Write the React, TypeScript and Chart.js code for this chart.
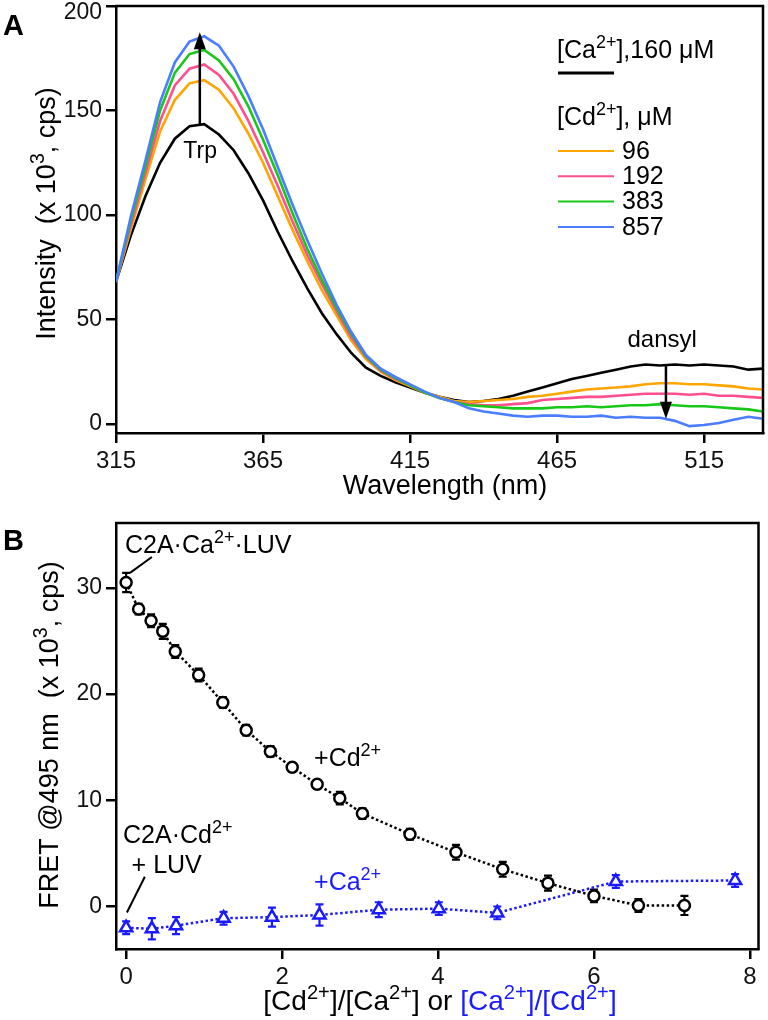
import React, { useEffect, useRef } from 'react';
import { Chart, registerables } from 'chart.js';
Chart.register(...registerables);

// ---------- Panel A data ----------
const wavelengths = [315,320,325,330,335,340,345,350,355,360,365,370,375,380,385,390,395,400,405,410,415,420,425,430,435,440,445,450,455,460,465,470,475,480,485,490,495,500,505,510,515,520,525,530,535];
const ca160 = [68,90,109,125,136.5,142.5,143.5,138.5,131,120,107,92,78,65,53,43,34,27,23,20,17.5,15,13,11.5,10.5,11,12,13.5,15.5,17.5,19.5,21.5,23,24.5,26,27.5,28.5,28,28.5,28,28.5,28,27.5,26,26.5];
const cd96 = [68,93,117,140,155,163,164.5,160,151,139,125,109,93,78,64,52,40,31,25,21,18,15,13,11,10.5,11,11.5,12,13,13.5,14.5,15.5,16.5,17,17.5,18,19,19.5,19.5,19,19,18.5,18,17,16.5];
const cd192 = [68,95,120,145,162,170,172,167,158,145,130,114,97,81,67,54,41.5,32,25.5,21.5,18.5,15,12.5,10.5,9.5,9,9,9.5,10,11.5,12,12.5,13,13,13.5,14,14.5,14.5,14.5,14,14.5,13.5,13.5,13,12.5];
const cd383 = [68,97,123,150,168,177,179,174,165,152,136,119,101,84,69,55.5,43,32.5,26,22,18.5,15,12.5,10.5,9,8.5,8,7.5,7.5,7.5,8,8,8.5,8,8.5,9,9,9.5,9,8.5,8.5,8,7.5,7,6];
const cd857 = [68,99,126,154,173,183,185.5,181,171,157,141,123,105,88,72,57,44,33,26.5,22.5,19,15.5,12.5,10.5,7.5,6,5,4,3.5,4,4,3.5,3.5,4,3,3.5,3,3,1.5,-1,-0.5,0.5,2,3.5,2.5];
const cdLabels = ['96', '192', '383', '857'];
const xTicksA = [315, 365, 415, 465, 515];
const yTicksA = [0, 50, 100, 150, 200];

// ---------- Panel B data ----------
const ratioCd = [0,0.16,0.32,0.47,0.63,0.93,1.24,1.54,1.85,2.13,2.45,2.74,3.03,3.64,4.23,4.83,5.41,6.0,6.57,7.16];
const fretCd = [30.5,28.0,26.9,25.9,24.0,21.8,19.2,16.6,14.6,13.1,11.5,10.2,8.75,6.8,5.1,3.5,2.2,1.0,0.1,0.1];
const errCd = [0.9,0.5,0.6,0.7,0.6,0.6,0.5,0.5,0.5,0.4,0.4,0.6,0.5,0.5,0.7,0.7,0.7,0.6,0.6,0.9];
const ratioCa = [0,0.33,0.64,1.25,1.87,2.48,3.24,4.01,4.76,6.28,7.81];
const fretCa = [-2.0,-2.1,-1.8,-1.1,-1.0,-0.8,-0.3,-0.2,-0.6,2.35,2.45];
const errCa = [0.6,1.0,0.8,0.6,0.9,1.0,0.7,0.6,0.6,0.6,0.6];
const xTicksB = [0, 2, 4, 6, 8];
const yTicksB = [0, 10, 20, 30];

const FONT = '"Liberation Sans", Arial, Helvetica, sans-serif';
const BLUE = '#1a1aff';
const COLORS = { ca: '#000000', c96: '#ffa500', c192: '#ff4f8f', c383: '#18c818', c857: '#4a7dff' };
const SUP = 0.72;

type Seg = [string, boolean?, string?];

function drawRich(ctx: CanvasRenderingContext2D, segs: Seg[], x: number, y: number, size: number, align: 'left' | 'center', color: string) {
  let w = 0;
  for (const [t, sup] of segs) {
    ctx.font = `${sup ? size * SUP : size}px ${FONT}`;
    w += ctx.measureText(t).width;
  }
  let cx = align === 'center' ? x - w / 2 : x;
  ctx.textAlign = 'left';
  ctx.textBaseline = 'alphabetic';
  for (const [t, sup, c] of segs) {
    const s = sup ? size * SUP : size;
    ctx.font = `${s}px ${FONT}`;
    ctx.fillStyle = c || color;
    ctx.fillText(t, cx, sup ? y - size * 0.4 : y);
    cx += ctx.measureText(t).width;
  }
}

function drawArrow(ctx: CanvasRenderingContext2D, x: number, y0: number, y1: number) {
  const dir = y1 < y0 ? -1 : 1;
  ctx.save();
  ctx.strokeStyle = '#000';
  ctx.fillStyle = '#000';
  ctx.lineWidth = 2.5;
  ctx.beginPath();
  ctx.moveTo(x, y0);
  ctx.lineTo(x, y1 - dir * 10);
  ctx.stroke();
  ctx.beginPath();
  ctx.moveTo(x, y1);
  ctx.lineTo(x - 6, y1 - dir * 17);
  ctx.lineTo(x + 6, y1 - dir * 17);
  ctx.closePath();
  ctx.fill();
  ctx.restore();
}

function frame(chart: any) {
  const { ctx, chartArea: a } = chart;
  ctx.save();
  ctx.strokeStyle = '#000';
  ctx.lineWidth = 2.5;
  ctx.beginPath();
  ctx.moveTo(a.left - 1, a.top);
  ctx.lineTo(a.right, a.top);
  ctx.lineTo(a.right, a.bottom + 1);
  ctx.stroke();
  ctx.restore();
}

function rotatedTitle(ctx: CanvasRenderingContext2D, segs: Seg[], cx: number, cy: number, size: number) {
  ctx.save();
  ctx.translate(cx, cy);
  ctx.rotate(-Math.PI / 2);
  drawRich(ctx, segs, 0, size * 0.36, size, 'center', '#000');
  ctx.restore();
}

const axisCommon = (ticksArr: number[], fontSize: number, hide?: number) => ({
  type: 'linear' as const,
  grid: { drawOnChartArea: false, drawTicks: true, tickLength: 10, tickColor: '#000', tickWidth: 2.5, color: '#000', lineWidth: 2.5 },
  border: { display: true, color: '#000', width: 2.5 },
  ticks: {
    color: '#111', font: { family: FONT, size: fontSize }, padding: 4, maxRotation: 0, autoSkip: false,
    callback: (v: any) => (v === hide ? '' : String(v)),
  },
  afterBuildTicks: (s: any) => { s.ticks = ticksArr.map((v) => ({ value: v })); },
});

const plotA = {
  id: 'plotA',
  afterDraw(chart: any) {
    const { ctx, chartArea: a, scales } = chart;
    const x = scales.x, y = scales.y;
    frame(chart);
    // top tick label, nudged down to stay inside the page
    ctx.save();
    ctx.fillStyle = '#111';
    ctx.font = `23px ${FONT}`;
    ctx.textAlign = 'right';
    ctx.textBaseline = 'middle';
    ctx.fillText(String(yTicksA[yTicksA.length - 1]), a.left - 14, y.getPixelForValue(yTicksA[yTicksA.length - 1]) + 7);
    ctx.restore();
    // arrows
    drawArrow(ctx, x.getPixelForValue(343.5), y.getPixelForValue(143.5), y.getPixelForValue(187.5));
    drawArrow(ctx, x.getPixelForValue(502), y.getPixelForValue(28.5), y.getPixelForValue(2.5));
    ctx.save();
    ctx.fillStyle = '#000';
    ctx.textAlign = 'center';
    ctx.textBaseline = 'middle';
    ctx.font = `23px ${FONT}`;
    ctx.fillText('Trp', x.getPixelForValue(343.6), y.getPixelForValue(130.5));
    ctx.font = `24px ${FONT}`;
    ctx.fillText('dansyl', x.getPixelForValue(500.7), y.getPixelForValue(40));
    // panel letter
    ctx.textAlign = 'left';
    ctx.textBaseline = 'alphabetic';
    ctx.font = `bold 29px ${FONT}`;
    ctx.fillText('A', 3, 35);
    ctx.restore();
    // legend
    const lx = 558;
    drawRich(ctx, [['[Ca'], ['2+', true], ['],160 \u03BCM']], lx - 1, 58, 25, 'left', '#000');
    ctx.save();
    ctx.strokeStyle = '#000';
    ctx.lineWidth = 3;
    ctx.beginPath(); ctx.moveTo(lx, 73); ctx.lineTo(lx + 56, 73); ctx.stroke();
    ctx.restore();
    drawRich(ctx, [['[Cd'], ['2+', true], ['], \u03BCM']], lx - 1, 125, 25, 'left', '#000');
    const cols = [COLORS.c96, COLORS.c192, COLORS.c383, COLORS.c857];
    cdLabels.forEach((lab, i) => {
      const ly = 151 + i * 25.3;
      ctx.save();
      ctx.strokeStyle = cols[i];
      ctx.lineWidth = 2;
      ctx.beginPath(); ctx.moveTo(lx, ly); ctx.lineTo(lx + 56, ly); ctx.stroke();
      ctx.fillStyle = '#000';
      ctx.font = `25px ${FONT}`;
      ctx.textAlign = 'left';
      ctx.textBaseline = 'middle';
      ctx.fillText(lab, lx + 64, ly + 1);
      ctx.restore();
    });
    // axis titles
    rotatedTitle(ctx, [['Intensity  (x 10'], ['3', true], [', cps)']], 45, (a.top + a.bottom) / 2 - 6, 27);
    drawRich(ctx, [['Wavelength (nm)']], 445, 494, 27, 'center', '#000');
  },
};

const plotB = {
  id: 'plotB',
  beforeDatasetsDraw(chart: any) {
    const { ctx, scales } = chart;
    const x = scales.x, y = scales.y;
    const sets = [
      { xs: ratioCd, ys: fretCd, es: errCd, c: '#000' },
      { xs: ratioCa, ys: fretCa, es: errCa, c: BLUE },
    ];
    ctx.save();
    ctx.lineWidth = 2.2;
    for (const s of sets) {
      ctx.strokeStyle = s.c;
      s.xs.forEach((xv, i) => {
        const px = x.getPixelForValue(xv);
        const top = y.getPixelForValue(s.ys[i] + s.es[i]);
        const bot = y.getPixelForValue(s.ys[i] - s.es[i]);
        ctx.beginPath();
        ctx.moveTo(px, top); ctx.lineTo(px, bot);
        ctx.moveTo(px - 4, top); ctx.lineTo(px + 4, top);
        ctx.moveTo(px - 4, bot); ctx.lineTo(px + 4, bot);
        ctx.stroke();
      });
    }
    ctx.restore();
  },
  afterDraw(chart: any) {
    const { ctx, chartArea: a, scales } = chart;
    const x = scales.x, y = scales.y;
    frame(chart);
    const P = (xv: number, yv: number) => [x.getPixelForValue(xv), y.getPixelForValue(yv)];
    let p = P(-0.015, 33.3);
    drawRich(ctx, [['C2A\u00B7Ca'], ['2+', true], ['\u00B7LUV']], p[0], p[1], 25, 'left', '#000');
    p = P(2.41, 13.2);
    drawRich(ctx, [['+Cd'], ['2+', true]], p[0], p[1], 25, 'left', '#000');
    p = P(-0.04, 6.0);
    drawRich(ctx, [['C2A\u00B7Cd'], ['2+', true]], p[0], p[1], 25, 'left', '#000');
    p = P(0.07, 3.2);
    drawRich(ctx, [['+ LUV']], p[0], p[1], 25, 'left', '#000');
    p = P(2.41, 1.6);
    drawRich(ctx, [['+Ca'], ['2+', true]], p[0], p[1], 25, 'left', BLUE);
    ctx.save();
    ctx.strokeStyle = '#000';
    ctx.lineWidth = 2;
    let q0 = P(0.05, 31.4), q1 = P(0.33, 32.9);
    ctx.beginPath(); ctx.moveTo(q0[0], q0[1]); ctx.lineTo(q1[0], q1[1]); ctx.stroke();
    q0 = P(0.01, -0.56); q1 = P(0.24, 2.8);
    ctx.beginPath(); ctx.moveTo(q0[0], q0[1]); ctx.lineTo(q1[0], q1[1]); ctx.stroke();
    ctx.fillStyle = '#000';
    ctx.font = `bold 29px ${FONT}`;
    ctx.textAlign = 'left';
    ctx.textBaseline = 'alphabetic';
    ctx.fillText('B', 3, 50);
    ctx.restore();
    rotatedTitle(ctx, [['FRET @495 nm  (x 10'], ['3', true], [', cps)']], 48, (a.top + a.bottom) / 2 - 1, 27);
    drawRich(ctx, [
      ['[Cd'], ['2+', true], [']/[Ca'], ['2+', true], ['] or '],
      ['[Ca', false, BLUE], ['2+', true, BLUE], [']/[Cd', false, BLUE], ['2+', true, BLUE], [']', false, BLUE],
    ], 440, 510, 28, 'center', '#000');
  },
};

export default function App() {
  const refA = useRef<HTMLCanvasElement>(null);
  const refB = useRef<HTMLCanvasElement>(null);
  useEffect(() => {
    const mk = (arr: number[]) => wavelengths.map((w, i) => ({ x: w, y: arr[i] }));
    const line = (arr: number[], color: string) => ({
      data: mk(arr), borderColor: color, borderWidth: 2.6, pointRadius: 0, tension: 0, fill: false,
    });
    const chartA = new Chart(refA.current as HTMLCanvasElement, {
      type: 'line',
      data: {
        datasets: [
          line(cd857, COLORS.c857),
          line(cd383, COLORS.c383),
          line(cd192, COLORS.c192),
          line(cd96, COLORS.c96),
          line(ca160, COLORS.ca),
        ] as any,
      },
      options: {
        responsive: false,
        animation: false,
        devicePixelRatio: 1,
        layout: { padding: { left: 0, right: 5, top: 6, bottom: 0 } },
        plugins: { legend: { display: false }, tooltip: { enabled: false } },
        scales: {
          x: {
            ...axisCommon(xTicksA, 24), min: 315, max: 535,
            afterFit: (s: any) => { s.height = 67; s.paddingLeft = 0; s.paddingRight = 0; },
          },
          y: {
            ...axisCommon(yTicksA, 23, yTicksA[yTicksA.length - 1]), min: -4.3, max: 200,
            afterFit: (s: any) => { s.width = 116; s.paddingTop = 0; s.paddingBottom = 0; },
          },
        } as any,
      },
      plugins: [plotA],
    });
    const chartB = new Chart(refB.current as HTMLCanvasElement, {
      type: 'line',
      data: {
        datasets: [
          {
            data: ratioCd.map((r, i) => ({ x: r, y: fretCd[i] })),
            borderColor: '#000', borderWidth: 2.5, borderDash: [2.5, 2.5],
            pointStyle: 'circle', pointRadius: 5.5, pointBorderWidth: 2.5,
            pointBorderColor: '#000', pointBackgroundColor: '#fff', tension: 0, fill: false,
          },
          {
            data: ratioCa.map((r, i) => ({ x: r, y: fretCa[i] })),
            borderColor: BLUE, borderWidth: 2.5, borderDash: [2.5, 2.5],
            pointStyle: 'triangle', pointRadius: 7, pointBorderWidth: 2.5,
            pointBorderColor: BLUE, pointBackgroundColor: '#fff', tension: 0, fill: false,
          },
        ] as any,
      },
      options: {
        responsive: false,
        animation: false,
        devicePixelRatio: 1,
        layout: { padding: { left: 0, right: 5, top: 23, bottom: 0 } },
        plugins: { legend: { display: false }, tooltip: { enabled: false } },
        scales: {
          x: {
            ...axisCommon(xTicksB, 24), min: -0.13, max: 8.11,
            afterFit: (s: any) => { s.height = 71; s.paddingLeft = 0; s.paddingRight = 0; },
          },
          y: {
            ...axisCommon(yTicksB, 23), min: -4, max: 36.1,
            afterFit: (s: any) => { s.width = 116; s.paddingTop = 0; s.paddingBottom = 0; },
          },
        } as any,
      },
      plugins: [plotB],
    });
    return () => { chartA.destroy(); chartB.destroy(); };
  }, []);
  return (
    <div style={{ position: 'absolute', left: 0, top: 0, width: 768, height: 1020, background: '#fff' }}>
      <canvas ref={refA} width={768} height={500} style={{ position: 'absolute', left: 0, top: 0, width: 768, height: 500 }} />
      <canvas ref={refB} width={768} height={520} style={{ position: 'absolute', left: 0, top: 500, width: 768, height: 520 }} />
    </div>
  );
}
